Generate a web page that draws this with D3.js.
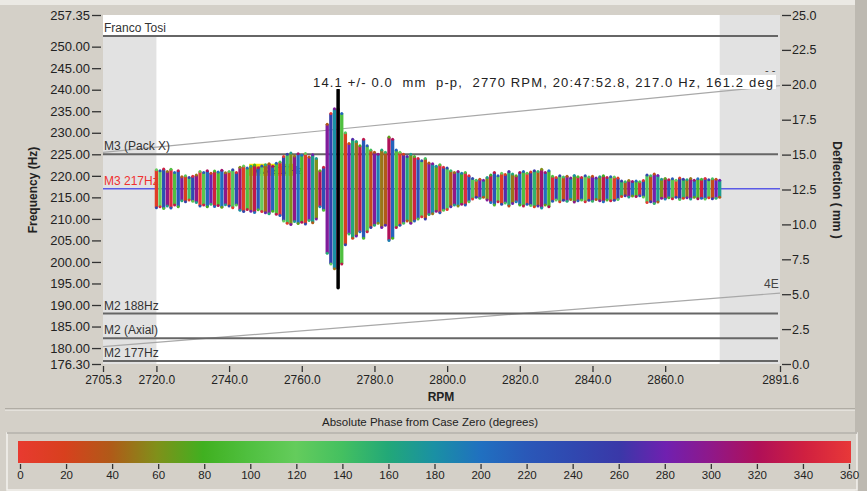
<!DOCTYPE html>
<html>
<head>
<meta charset="utf-8">
<script src="https://cdn.jsdelivr.net/npm/d3@7"></script>
<style>
  body { margin: 0; background: #d4d0c8; }
  svg { display: block; font-family: "Liberation Sans", Arial, sans-serif; }
</style>
</head>
<body>
<svg id="chart" width="867" height="491"></svg>
<script>
// ---- data ----
var rpmStart = 2720;
// half height of each vibration bar (Hz units on the left axis), one per RPM from 2720
var barAmp = [
  4.4, 4.2, 4.6, 4, 4.5, 3.8, 4.2, 2.8, 3, 2.6,
  2.9, 3.2, 4, 3.8, 4.2, 3.6, 4.1, 3.9, 4.3, 3.7,
  4, 4.4, 3.8, 5, 5.3, 4.8, 5.2, 5.5, 4.9, 5.3,
  5.6, 5.8, 5.2, 5.9, 6.2, 7.5, 8, 8.3, 7.6, 8.1,
  7.8, 8.2, 7.4, 7.9, 7, 4.2, 5, 15, 17.5, 18.6,
  18.6, 17.5, 13, 10.5, 11.5, 11, 10, 11.5, 10, 9,
  8.5, 8, 9, 8.5, 12, 11.5, 9, 8.5, 8, 7.5,
  8, 7.5, 7, 6.5, 7, 6, 5.8, 5.2, 5.6, 5,
  4.8, 4.2, 3.8, 4, 3.6, 3.8, 3, 2.4, 2, 2.2,
  2, 2.6, 3.2, 3.8, 3, 3.6, 3.3, 4, 3.4, 3,
  3.8, 4, 3.6, 3.9, 4.2, 4, 4.5, 3.8, 4.2, 2.9,
  2.6, 3, 2.7, 2.9, 2.5, 3.1, 2.8, 2.6, 3, 2.7,
  2.9, 2.5, 2.8, 3, 2.6, 2.8, 2.7, 2.5, 1.8, 1.6,
  1.9, 1.7, 1.8, 1.6, 1.9, 3.2, 3, 3.4, 3.1, 2.2,
  2.4, 2.1, 2.3, 2, 2.5, 2.2, 2.1, 2.4, 2, 2.3,
  2.2, 2.4, 2.1, 2.3, 2.2, 2
];
// absolute phase (degrees) of each bar
var barPhase = [
  10, 120, 230, 300, 350, 100, 220, 290, 20, 140,
  240, 300, 0, 110, 210, 280, 340, 90, 200, 300,
  20, 130, 240, 310, 10, 100, 50, 330, 220, 120,
  45, 290, 210, 100, 350, 250, 140, 60, 300, 200,
  90, 10, 280, 170, 60, 320, 230, 290, 250, 180,
  300, 100, 20, 280, 160, 50, 330, 220, 110, 30,
  290, 190, 50, 40, 320, 210, 100, 10, 270, 160,
  60, 340, 230, 120, 30, 290, 180, 70, 350, 240,
  130, 40, 300, 190, 80, 350, 240, 130, 30, 280,
  170, 60, 330, 220, 110, 10, 270, 160, 50, 320,
  210, 100, 0, 260, 150, 40, 310, 200, 90, 350,
  250, 140, 30, 290, 180, 70, 340, 230, 120, 20,
  280, 170, 60, 330, 220, 110, 10, 260, 150, 40,
  300, 200, 90, 350, 240, 130, 30, 280, 170, 60,
  320, 220, 110, 10, 260, 150, 50, 300, 200, 90,
  340, 240, 130, 30, 280, 170
];
var centerHz = 217;
var cursorRpm = 2770, cursorHalf = 23;

var freqTicks = [176.3, 180, 185, 190, 195, 200, 205, 210, 215, 220, 225, 230, 235, 240, 245, 250, 257.35];
var deflTicks = [0, 2.5, 5, 7.5, 10, 12.5, 15, 17.5, 20, 22.5, 25];
var rpmTicks = [2705.3, 2720, 2740, 2760, 2780, 2800, 2820, 2840, 2860, 2891.6];
var phaseTicks = d3.range(0, 361, 20);

var phaseStops = [0, 20, 40, 60, 80, 100, 120, 140, 160, 180, 200, 220, 240, 260, 280, 300, 320, 340, 360];
var phaseColors = ['#e83a30', '#d8401e', '#b05a18', '#80901a', '#40b020', '#50c040', '#64cc5c', '#44c060',
  '#22a878', '#1a90a4', '#2070c0', '#2a58b8', '#3048b0', '#3a38a8', '#7020b0', '#901888', '#b01058', '#d02040', '#e83838'];

// reference lines
var hLines = [
  { hz: 252.5, label: 'Franco Tosi' },
  { hz: 225, label: 'M3 (Pack X)' },
  { hz: 188, label: 'M2 188Hz' },
  { hz: 182.3, label: 'M2 (Axial)' },
  { hz: 177, label: 'M2 177Hz' }
];
// engine-order lines (multiples of running speed)
var orders = [{ n: 5, label: '- -' }, { n: 4, label: '4E' }];

var cursorText = '14.1 +/- 0.0  mm  p-p,  2770 RPM, 20:47:52.8, 217.0 Hz, 161.2 deg';

// ---- drawing ----
var svg = d3.select('#chart');

var x = d3.scaleLinear().domain([2705.3, 2891.6]).range([103, 780]),
    y = d3.scaleLinear().domain([176.3, 257.35]).range([364, 15]),
    yR = d3.scaleLinear().domain([0, 25]).range([364, 15]),
    color = d3.scaleLinear().domain(phaseStops).range(phaseColors);

// window chrome
svg.append('rect').attr('width', 867).attr('height', 491).attr('fill', '#d4d0c8');
svg.append('rect').attr('width', 867).attr('height', 5).attr('fill', '#ebe9e4');
svg.append('rect').attr('x', 855).attr('width', 12).attr('height', 491).attr('fill', '#bdb9b1');
svg.append('line').attr('x1', 5).attr('x2', 855).attr('y1', 409).attr('y2', 409).attr('stroke', '#8c8880');
svg.append('line').attr('x1', 5).attr('x2', 855).attr('y1', 410).attr('y2', 410).attr('stroke', '#f4f2ee');

// plot area
svg.append('rect').attr('x', 103).attr('y', 15).attr('width', 677).attr('height', 349).attr('fill', '#fff');
svg.append('rect').attr('x', 103).attr('y', y(252.5)).attr('width', x(2720) - 103).attr('height', 364 - y(252.5)).attr('fill', '#e2e2e2');
svg.append('rect').attr('x', x(2875)).attr('y', 15).attr('width', 780 - x(2875)).attr('height', 349).attr('fill', '#e2e2e2');

// order lines
svg.append('g').selectAll('line').data(orders).enter().append('line')
  .attr('x1', x(2705.3)).attr('x2', x(2891.6))
  .attr('y1', function(d) { return y(2705.3 * d.n / 60); })
  .attr('y2', function(d) { return y(2891.6 * d.n / 60); })
  .attr('stroke', '#a8a8a8').attr('stroke-width', 1.2);

// reference lines
var ref = svg.append('g');
ref.selectAll('line').data(hLines).enter().append('line')
  .attr('x1', 103).attr('x2', 778)
  .attr('y1', function(d) { return y(d.hz); }).attr('y2', function(d) { return y(d.hz); })
  .attr('stroke', '#666').attr('stroke-width', 2);
ref.selectAll('text').data(hLines).enter().append('text')
  .attr('x', 104).attr('y', function(d) { return y(d.hz) - 4; })
  .attr('font-size', 12).attr('fill', '#333')
  .text(function(d) { return d.label; });

// 217 Hz line
svg.append('line').attr('x1', 103).attr('x2', 780).attr('y1', y(centerHz)).attr('y2', y(centerHz))
  .attr('stroke', '#5a5ae6').attr('stroke-width', 1.5);
svg.append('text').attr('x', 104).attr('y', y(centerHz) - 4).attr('font-size', 12).attr('fill', '#f03030').text('M3 217Hz');

// yellow marker label
svg.append('rect').attr('x', x(2745.5)).attr('y', y(222.8)).attr('width', 44).attr('height', 12).attr('fill', '#f2e600');
svg.append('text').attr('x', x(2746.5)).attr('y', y(222.8) + 10).attr('font-size', 11).attr('fill', '#444').text('M3 217Hz');

// vibration bars
var bars = barAmp.map(function(a, i) { return { rpm: rpmStart + i, amp: a, phase: barPhase[i] }; });
var bw = x(rpmStart + 1) - x(rpmStart) - 0.3;
var bg = svg.append('g');
bg.selectAll('rect').data(bars).enter().append('rect')
  .attr('x', function(d) { return x(d.rpm) - bw / 2; })
  .attr('width', bw)
  .attr('y', function(d) { return y(centerHz + d.amp); })
  .attr('height', function(d) { return y(centerHz - d.amp) - y(centerHz + d.amp); })
  .attr('fill', function(d) { return color(d.phase); });
// small caps at bar tips, shown in the neighbouring hue
bg.selectAll('circle.top').data(bars).enter().append('circle')
  .attr('cx', function(d) { return x(d.rpm); })
  .attr('cy', function(d) { return y(centerHz + d.amp); })
  .attr('r', 1.5)
  .attr('fill', function(d) { return color((d.phase + 110) % 360); });
bg.selectAll('circle.bot').data(bars).enter().append('circle')
  .attr('cx', function(d) { return x(d.rpm); })
  .attr('cy', function(d) { return y(centerHz - d.amp); })
  .attr('r', 1.5)
  .attr('fill', function(d) { return color((d.phase + 230) % 360); });

// cursor
svg.append('line').attr('x1', x(cursorRpm)).attr('x2', x(cursorRpm))
  .attr('y1', y(centerHz + cursorHalf)).attr('y2', y(centerHz - cursorHalf))
  .attr('stroke', '#000').attr('stroke-width', 3.5).attr('stroke-linecap', 'round');

// cursor readout
svg.append('rect').attr('x', 310).attr('y', 75).attr('width', 466).attr('height', 14).attr('fill', '#fff');
svg.append('text').attr('x', 313).attr('y', 87).attr('font-size', 13).attr('fill', '#222')
  .attr('textLength', 460).attr('lengthAdjust', 'spacing')
  .attr('xml:space', 'preserve').style('white-space', 'pre').text(cursorText);
svg.append('text').attr('x', 765).attr('y', 74).attr('font-size', 11).attr('fill', '#444').text(orders[0].label);
svg.append('text').attr('x', 764).attr('y', y(2891.6 * orders[1].n / 60) - 5).attr('font-size', 12).attr('fill', '#444').text(orders[1].label);

// axes
function styleAxis(g, size) {
  g.select('.domain').remove();
  g.selectAll('.tick line').attr('stroke', '#333').attr('stroke-width', 1.3);
  g.selectAll('.tick text').attr('fill', '#222').attr('font-size', size).attr('font-family', '"Liberation Sans", Arial, sans-serif');
}
svg.append('g').attr('transform', 'translate(101,0)')
  .call(d3.axisLeft(y).tickValues(freqTicks).tickFormat(d3.format('.2f')).tickSize(9).tickPadding(2))
  .call(styleAxis, 13);
svg.append('g').attr('transform', 'translate(782,0)')
  .call(d3.axisRight(yR).tickValues(deflTicks).tickFormat(d3.format('.1f')).tickSize(9).tickPadding(1))
  .call(styleAxis, 12.5);
svg.append('g').attr('transform', 'translate(0,366)')
  .call(d3.axisBottom(x).tickValues(rpmTicks).tickFormat(d3.format('.1f')).tickSize(6).tickPadding(3))
  .call(styleAxis, 12);

svg.append('text').attr('transform', 'translate(37,190) rotate(-90)').attr('text-anchor', 'middle')
  .attr('font-size', 12).attr('font-weight', 'bold').attr('fill', '#222').text('Frequency (Hz)');
svg.append('text').attr('transform', 'translate(833,190) rotate(90)').attr('text-anchor', 'middle')
  .attr('font-size', 12).attr('font-weight', 'bold').attr('fill', '#222').text('Deflection ( mm )');
svg.append('text').attr('x', 441).attr('y', 401).attr('text-anchor', 'middle')
  .attr('font-size', 12).attr('font-weight', 'bold').attr('fill', '#222').text('RPM');

// phase legend
svg.append('text').attr('x', 430).attr('y', 426).attr('text-anchor', 'middle')
  .attr('font-size', 11.5).attr('fill', '#222').text('Absolute Phase from Case Zero (degrees)');
svg.append('rect').attr('x', 7).attr('y', 433).attr('width', 850).attr('height', 57)
  .attr('fill', '#d4d0c8').attr('stroke', '#f4f2ee').attr('stroke-width', 1.5);
svg.append('line').attr('x1', 7).attr('x2', 857).attr('y1', 433).attr('y2', 433).attr('stroke', '#8c8880');

var c = d3.scaleLinear().domain([0, 360]).range([20, 849]);
var grad = svg.append('defs').append('linearGradient').attr('id', 'phaseGrad');
grad.selectAll('stop').data(phaseStops).enter().append('stop')
  .attr('offset', function(d) { return d / 360; })
  .attr('stop-color', function(d, i) { return phaseColors[i]; });
svg.append('rect').attr('x', c(0) - 2).attr('y', 441).attr('width', c(360) - c(0) + 4).attr('height', 22)
  .attr('fill', 'url(#phaseGrad)');
svg.append('g').attr('transform', 'translate(0,464)')
  .call(d3.axisBottom(c).tickValues(phaseTicks).tickFormat(d3.format('d')).tickSize(5).tickPadding(2))
  .call(styleAxis, 11.5);
</script>
</body>
</html>
